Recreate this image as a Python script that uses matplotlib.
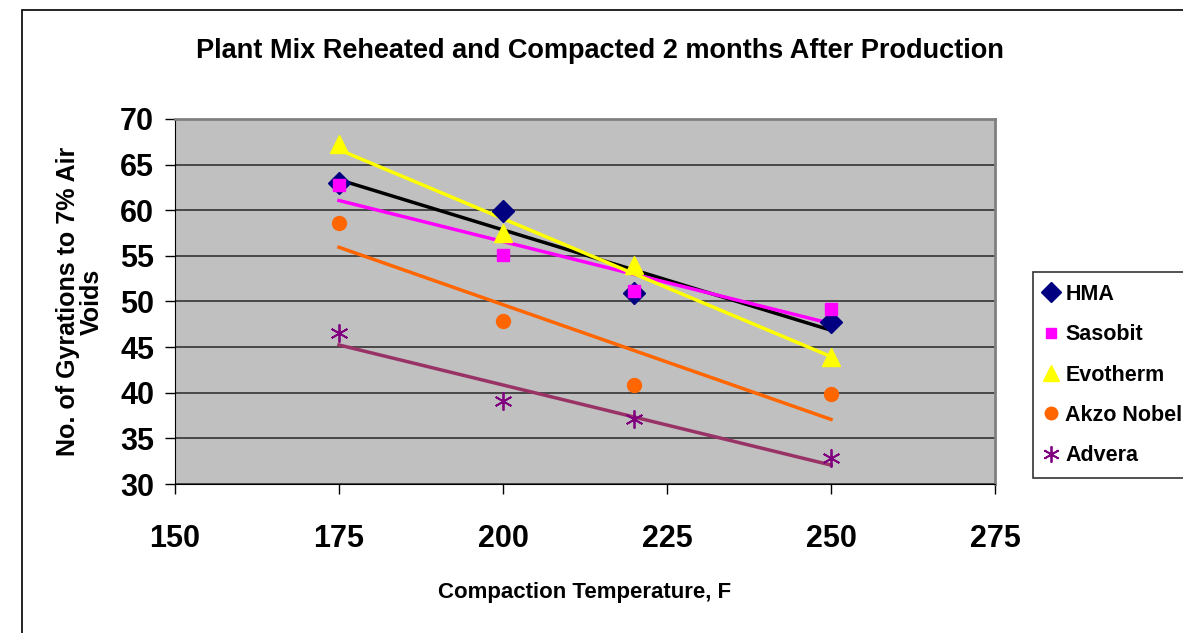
import numpy as np
import matplotlib.pyplot as plt
from matplotlib.patches import Rectangle

plt.rcParams['font.family'] = ['Liberation Sans', 'DejaVu Sans']
plt.rcParams['font.weight'] = 'bold'

temps = np.array([175, 200, 220, 250])
hma = np.array([63.0, 59.9, 50.9, 47.7])
sasobit = np.array([62.8, 55.1, 51.1, 49.2])
evotherm = np.array([67.3, 57.5, 54.0, 43.9])
akzo = np.array([58.6, 47.9, 40.9, 39.9])
advera = np.array([46.5, 39.1, 37.1, 32.8])

series = [
    ('HMA', hma, 'D', '#000080', 'black', 11),
    ('Sasobit', sasobit, 's', '#FF00FF', '#FF00FF', 8),
    ('Evotherm', evotherm, '^', '#FFFF00', '#FFFF00', 13),
    ('Akzo Nobel', akzo, 'o', '#FF6600', '#FF6600', 10),
    ('Advera', advera, (6, 2, 0), '#800080', '#993366', 13),
]

fig = plt.figure(figsize=(11.83, 6.33), dpi=100)
fig.patches.append(Rectangle((22 / 1183, -0.1), 1.2, 1.1 - 10 / 633,
                             transform=fig.transFigure, fill=False,
                             edgecolor='black', linewidth=1.2, clip_on=False))

ax = fig.add_axes([175 / 1183, 149 / 633, 820 / 1183, 365 / 633])
ax.set_facecolor('#C0C0C0')

handles = []
for name, y, mk, mcol, lcol, ms in series:
    # linear trendline per series
    k, b = np.polyfit(temps, y, 1)
    ax.plot(temps, k * temps + b, color=lcol, linewidth=2.5, zorder=3)
    if name == 'Advera':
        h, = ax.plot(temps, y, linestyle='none', marker=mk, markersize=ms,
                     markeredgecolor=mcol, markeredgewidth=1.3, zorder=4,
                     label=name)
    else:
        h, = ax.plot(temps, y, linestyle='none', marker=mk, markersize=ms,
                     color=mcol, markeredgecolor=mcol, zorder=4, label=name)
    handles.append(h)

ax.set_xlim(150, 275)
ax.set_ylim(30, 70)
ax.set_xticks(np.arange(150, 276, 25))
ax.set_yticks(np.arange(30, 71, 5))
ax.yaxis.grid(True, color='#333333', linewidth=1.2)
ax.set_axisbelow(True)
ax.tick_params(labelsize=22, length=7, width=1, color='black')
ax.tick_params(axis='x', pad=22)
ax.tick_params(axis='y', pad=8)
for lbl in ax.get_xticklabels() + ax.get_yticklabels():
    lbl.set_fontweight('bold')
for s in ['left', 'bottom']:
    ax.spines[s].set_color('black')
for s in ['top', 'right']:
    ax.spines[s].set_color('#808080')
ax.spines['top'].set_linewidth(2)
ax.spines['right'].set_linewidth(2)

ax.set_xlabel('Compaction Temperature, F', fontsize=16, fontweight='bold',
              labelpad=20)
ax.set_ylabel('No. of Gyrations to 7% Air\nVoids', fontsize=18,
              fontweight='bold', labelpad=12, linespacing=0.95)
fig.text(600 / 1183, 1 - 51 / 633,
         'Plant Mix Reheated and Compacted 2 months After Production',
         ha='center', va='center', fontsize=19.5, fontweight='bold')

leg = fig.legend(handles=handles, loc='upper left',
                 bbox_to_anchor=(1033 / 1183, 1 - 272 / 633),
                 borderaxespad=0,
                 prop={'size': 15.5, 'weight': 'bold'}, frameon=True,
                 fancybox=False, edgecolor='black', handlelength=0.6,
                 handletextpad=0.35, labelspacing=0.9, borderpad=0.55,
                 markerscale=0.9)
leg.get_frame().set_linewidth(1.2)

plt.savefig('out.png', dpi=100)
